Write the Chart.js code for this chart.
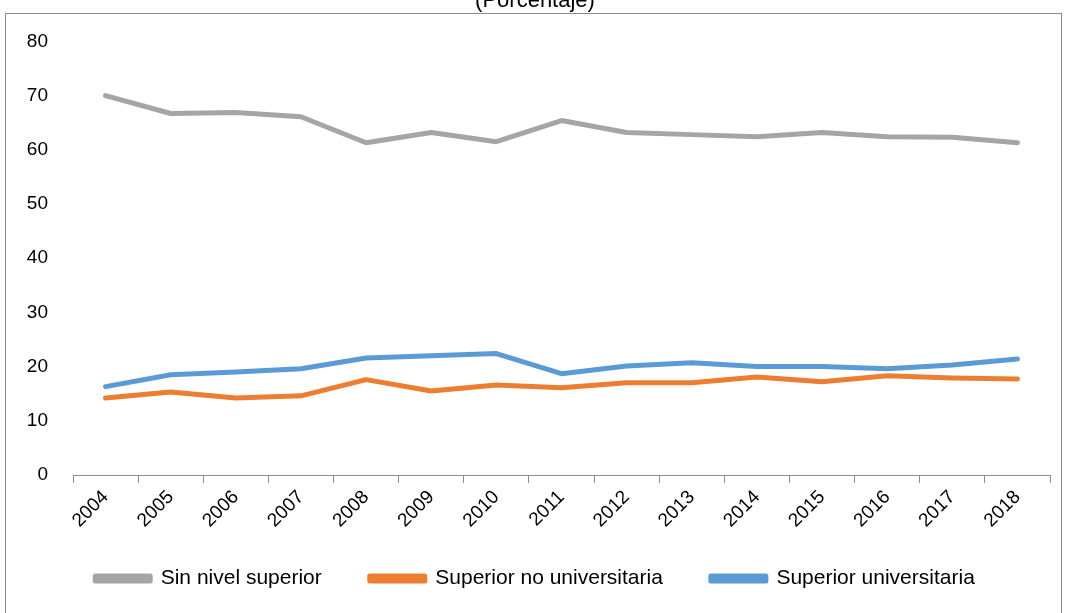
<!DOCTYPE html>
<html>
<head>
<meta charset="utf-8">
<script src="https://cdn.jsdelivr.net/npm/chart.js@4"></script>
<style>
  body { margin: 0; background: #fff; overflow: hidden; }
  #frame { position: absolute; left: 5px; top: 13px; width: 1055px; height: 660px; border: 1px solid #8c8c8c; }
  #wrap { position: absolute; left: 0; top: -20px; width: 1066px; height: 633px; }
</style>
</head>
<body>
<div id="frame"></div>
<div id="wrap"><canvas id="chart"></canvas></div>
<script>
const years = ['2004', '2005', '2006', '2007', '2008', '2009', '2010', '2011', '2012', '2013', '2014', '2015', '2016', '2017', '2018'];
const sinNivel = [70.0, 66.7, 66.9, 66.1, 61.3, 63.2, 61.5, 65.4, 63.2, 62.8, 62.4, 63.2, 62.4, 62.3, 61.3];
const noUniv = [14.2, 15.3, 14.2, 14.6, 17.6, 15.5, 16.6, 16.1, 17.0, 17.0, 18.1, 17.2, 18.3, 17.9, 17.7];
const univ = [16.3, 18.5, 19.0, 19.6, 21.6, 22.0, 22.4, 18.7, 20.1, 20.7, 20.0, 20.0, 19.6, 20.3, 21.4];

const ctx = document.getElementById('chart');
const sans = "'Liberation Sans', Arial, sans-serif";

function series(label, data, color) {
  return {
    label: label,
    data: data,
    borderColor: color,
    backgroundColor: color,
    borderWidth: 5,
    borderCapStyle: 'round',
    borderJoinStyle: 'round',
    pointRadius: 0,
    tension: 0
  };
}

new Chart(ctx, {
  type: 'line',
  data: {
    labels: years,
    datasets: [
      series('Sin nivel superior', sinNivel, '#a5a5a5'),
      series('Superior no universitaria', noUniv, '#ed7d31'),
      series('Superior universitaria', univ, '#5b9bd5')
    ]
  },
  options: {
    responsive: true,
    maintainAspectRatio: false,
    animation: false,
    layout: { padding: { left: 20, right: 16, top: 0, bottom: 14 } },
    plugins: {
      title: {
        display: true,
        text: '(Porcentaje)',
        color: '#000',
        font: { size: 22, family: sans, weight: 'normal' },
        padding: { top: 8, bottom: 27 }
      },
      legend: {
        position: 'bottom',
        labels: {
          color: '#000',
          boxWidth: 55,
          boxHeight: 5,
          padding: 48,
          font: { size: 21, family: sans }
        }
      },
      tooltip: { enabled: false }
    },
    scales: {
      x: {
        offset: true,
        grid: { display: true, drawOnChartArea: false, drawTicks: true, tickLength: 8, offset: true, color: '#8c8c8c' },
        border: { display: true, color: '#8c8c8c' },
        ticks: { color: '#000', minRotation: 45, maxRotation: 45, font: { size: 19, family: sans } },
        afterFit: function (scale) {
          scale.height = 45;
          // the big legend padding overlaps this box, so don't clip the rotated labels
          scale._computeLabelArea = function () { return null; };
        }
      },
      y: {
        min: 0,
        max: 80,
        grid: { display: false },
        border: { display: false },
        ticks: { stepSize: 10, padding: 17, color: '#000', font: { size: 19, family: sans } },
        afterFit: function (scale) { scale.width = 53; }
      }
    }
  }
});
</script>
</body>
</html>
